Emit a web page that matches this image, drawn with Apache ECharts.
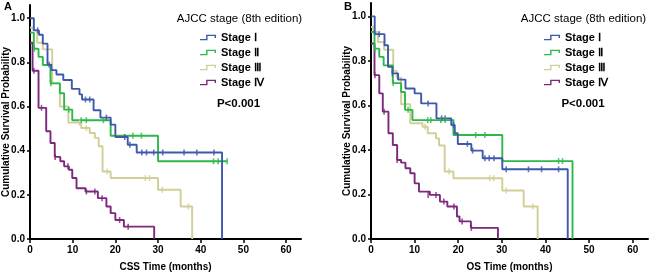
<!DOCTYPE html>
<html><head><meta charset="utf-8">
<script src="https://cdn.jsdelivr.net/npm/echarts@6/dist/echarts.min.js"></script>
<style>html,body{margin:0;padding:0;background:#fff}#c{width:650px;height:275px}</style>
</head><body><div id="c"></div><script>
const stageNames = ['Stage Ⅰ', 'Stage Ⅱ', 'Stage Ⅲ', 'Stage Ⅳ'];
const stageColors = ['#3E58AC', '#2EB848', '#D3CE97', '#7C287D'];
const xTicks = [0, 10, 20, 30, 40, 50, 60];
const yTicks = [0, 0.2, 0.4, 0.6, 0.8, 1.0];
const panelLabels = ['A', 'B'];
const xTitles = ['CSS Time (months)', 'OS Time (months)'];
const yTitle = 'Cumulative Survival Probability';
const legendTitle = 'AJCC stage (8th edition)';
const pText = 'P<0.001';

// Panel A: CSS  [time, survival] at each event step
const cssStageI = [[0,1.0],[0.9,0.945],[2.1,0.925],[3.0,0.885],[4.1,0.79],[5.0,0.765],[6.2,0.745],[7.8,0.72],[9.8,0.68],[11.6,0.655],[12.2,0.632],[14.9,0.583],[16.5,0.55],[18.9,0.518],[20.0,0.462],[22.9,0.427],[25.0,0.392],[45.0,0]];
const cssStageICens = [[1.8,0.945],[4.5,0.79],[13.0,0.632],[14.0,0.632],[17.9,0.55],[22.2,0.462],[23.4,0.427],[26.2,0.392],[27.3,0.392],[29.0,0.392],[31.1,0.392],[36.1,0.392],[39.1,0.392],[43.1,0.392]];
const cssStageII = [[0,0.935],[0.9,0.862],[2.0,0.825],[3.0,0.788],[4.8,0.705],[7.0,0.66],[8.0,0.586],[9.9,0.538],[18.9,0.468],[30.0,0.352],[46.2,0.352]];
const cssStageIICens = [[1.0,0.862],[4.9,0.705],[9.1,0.586],[12.0,0.538],[13.2,0.538],[17.2,0.538],[24.1,0.468],[26.1,0.468],[43.0,0.352],[44.1,0.352],[46.2,0.352]];
const cssStageIII = [[0,0.958],[0.8,0.947],[1.7,0.889],[3.0,0.859],[5.2,0.705],[7.0,0.60],[9.0,0.527],[12.0,0.503],[14.0,0.48],[15.2,0.458],[16.1,0.42],[17.0,0.306],[18.9,0.276],[30.0,0.223],[35.3,0.147],[38.0,0]];
const cssStageIIICens = [[11.6,0.527],[13.2,0.503],[18.1,0.306],[27.0,0.276],[28.0,0.276],[31.0,0.223],[37.1,0.147]];
const cssStageIV = [[0,0.889],[0.6,0.762],[2.0,0.594],[3.8,0.488],[4.8,0.435],[5.8,0.372],[7.1,0.352],[8.0,0.329],[9.1,0.314],[9.9,0.276],[10.9,0.23],[13.0,0.215],[15.9,0.185],[17.9,0.147],[18.9,0.117],[20.0,0.086],[22.0,0.056],[29.1,0]];
const cssStageIVCens = [[0.9,0.762],[2.7,0.594],[5.9,0.372],[8.9,0.329],[13.2,0.215],[15.2,0.215],[16.9,0.185],[21.0,0.086],[23.0,0.056]];

// Panel B: OS
const osStageI = [[0,1.0],[0.85,0.92],[3.1,0.87],[3.9,0.773],[4.9,0.744],[6.2,0.716],[7.9,0.676],[10.0,0.654],[11.5,0.609],[15.0,0.542],[18.4,0.512],[19.2,0.475],[19.9,0.427],[23.0,0.397],[25.6,0.363],[30.1,0.313],[45.1,0]];
const osStageICens = [[1.9,0.92],[4.9,0.744],[13.1,0.609],[16.2,0.542],[17.0,0.542],[18.9,0.512],[22.1,0.427],[23.3,0.397],[26.1,0.363],[27.1,0.363],[28.2,0.363],[31.0,0.313],[36.1,0.313],[39.1,0.313],[43.0,0.313]];
const osStageII = [[0,0.93],[0.8,0.855],[1.9,0.818],[2.9,0.78],[5.0,0.70],[6.9,0.66],[7.8,0.58],[9.5,0.534],[18.9,0.467],[30.1,0.35],[46.2,0]];
const osStageIICens = [[0.9,0.855],[5.1,0.70],[8.5,0.58],[13.0,0.534],[13.7,0.534],[16.0,0.534],[17.0,0.534],[24.0,0.467],[26.1,0.467],[43.0,0.35],[43.9,0.35]];
const osStageIII = [[0,0.952],[0.6,0.93],[1.6,0.885],[3.0,0.85],[5.1,0.755],[5.9,0.725],[6.9,0.605],[9.0,0.52],[11.8,0.504],[13.0,0.475],[14.9,0.452],[15.6,0.42],[16.9,0.303],[18.9,0.273],[30.1,0.218],[35.0,0.146],[38.2,0]];
const osStageIIICens = [[12.4,0.504],[17.9,0.303],[27.2,0.273],[28.1,0.273],[31.0,0.218],[37.1,0.146]];
const osStageIV = [[0,0.878],[0.8,0.736],[1.9,0.654],[2.7,0.572],[4.0,0.475],[5.0,0.422],[6.0,0.355],[6.9,0.343],[7.9,0.318],[9.0,0.295],[10.0,0.25],[11.0,0.213],[13.5,0.198],[15.8,0.168],[17.5,0.146],[19.7,0.101],[20.3,0.079],[22.9,0.05],[29.1,0]];
const osStageIVCens = [[0.9,0.736],[3.0,0.572],[6.0,0.355],[13.1,0.198],[14.9,0.198],[16.7,0.168],[19.0,0.146],[20.9,0.079],[23.0,0.05]];

const panels = [
  { curves: [cssStageI, cssStageII, cssStageIII, cssStageIV], cens: [cssStageICens, cssStageIICens, cssStageIIICens, cssStageIVCens] },
  { curves: [osStageI, osStageII, osStageIII, osStageIV], cens: [osStageICens, osStageIICens, osStageIIICens, osStageIVCens] }
];

const FONT = 'Liberation Sans, Arial, sans-serif';
const grids = [
  { left: 30, top: 5, width: 271, height: 234 },
  { left: 371, top: 3, width: 277, height: 236 }
];
const legendPos = [{ left: 200, cx: 239.5, px: 238.5 }, { left: 544, cx: 583.5, px: 583 }];
const iconPath = 'path://M0,9 L13,9 L13,0 L34,0 L34,7 L31,7 L31,3 L16,3 L16,12 L0,12 Z';

const axisLineStyle = { show: true, lineStyle: { color: '#000', width: 2 } };
const xAxes = [], yAxes = [], series = [], legends = [], titles = [], graphics = [];
grids.forEach((g, p) => {
  xAxes.push({
    type: 'value', gridIndex: p, min: 0, max: 63.5,
    name: xTitles[p], nameLocation: 'middle', nameGap: 23, nameMoveOverlap: false,
    nameTextStyle: { fontFamily: FONT, fontWeight: 'bold', fontSize: 10, color: '#000' },
    axisLine: axisLineStyle, splitLine: { show: false },
    axisTick: { show: true, length: 4, customValues: xTicks, lineStyle: { color: '#000', width: 1.5 } },
    axisLabel: { customValues: xTicks, margin: 6, fontFamily: FONT, fontWeight: 'bold', fontSize: 10, color: '#000' }
  });
  yAxes.push({
    type: 'value', gridIndex: p, min: 0, max: 1.06,
    name: yTitle, nameLocation: 'middle', nameGap: 19, nameRotate: 90, nameMoveOverlap: false,
    nameTextStyle: { fontFamily: FONT, fontWeight: 'bold', fontSize: 10, color: '#000' },
    axisLine: axisLineStyle, splitLine: { show: false },
    axisTick: { show: true, length: 3, customValues: yTicks, lineStyle: { color: '#000', width: 1.5 } },
    axisLabel: { customValues: yTicks, margin: 5, formatter: v => v.toFixed(1), fontFamily: FONT, fontWeight: 'bold', fontSize: 10, color: '#000' }
  });
  panels[p].curves.forEach((d, i) => {
    series.push({
      type: 'line', name: stageNames[i], xAxisIndex: p, yAxisIndex: p, step: 'end', data: d,
      showSymbol: false, symbol: 'none', lineStyle: { color: stageColors[i], width: 1.9 },
      itemStyle: { color: stageColors[i] }, animation: false, z: 3 + (3 - i)
    });
  });
  panels[p].cens.forEach((d, i) => {
    series.push({
      type: 'scatter', name: stageNames[i] + ' censored', xAxisIndex: p, yAxisIndex: p, data: d,
      symbol: 'rect', symbolSize: [1.6, 6], itemStyle: { color: stageColors[i] }, animation: false, z: 8
    });
  });
  legends.push({
    orient: 'vertical', left: legendPos[p].left, top: 31, data: stageNames, icon: iconPath,
    itemWidth: 16, itemHeight: 6, itemGap: 2, padding: 0, selectedMode: false,
    itemStyle: { borderWidth: 0 },
    textStyle: { fontFamily: FONT, fontWeight: 'bold', fontSize: 11, color: '#000', lineHeight: 13 }
  });
  titles.push({ text: panelLabels[p], left: p === 0 ? 4 : 344, top: 1, padding: 0,
    textStyle: { fontFamily: FONT, fontWeight: 'bold', fontSize: 11, color: '#000' } });
  graphics.push({ type: 'text', x: legendPos[p].cx, y: 19, style: { text: legendTitle, textAlign: 'center', textVerticalAlign: 'middle', font: '11.5px ' + FONT, fill: '#000' } });
  graphics.push({ type: 'text', x: legendPos[p].px, y: 104, style: { text: pText, textAlign: 'center', textVerticalAlign: 'middle', font: 'bold 11.5px ' + FONT, fill: '#000' } });
});

const chart = echarts.init(document.getElementById('c'), null, { renderer: 'canvas' });
chart.setOption({
  backgroundColor: '#fff',
  animation: false,
  grid: grids.map(g => Object.assign({ containLabel: false, outerBoundsMode: 'none' }, g)),
  xAxis: xAxes, yAxis: yAxes, series: series, legend: legends, title: titles, graphic: graphics
});
</script></body></html>
